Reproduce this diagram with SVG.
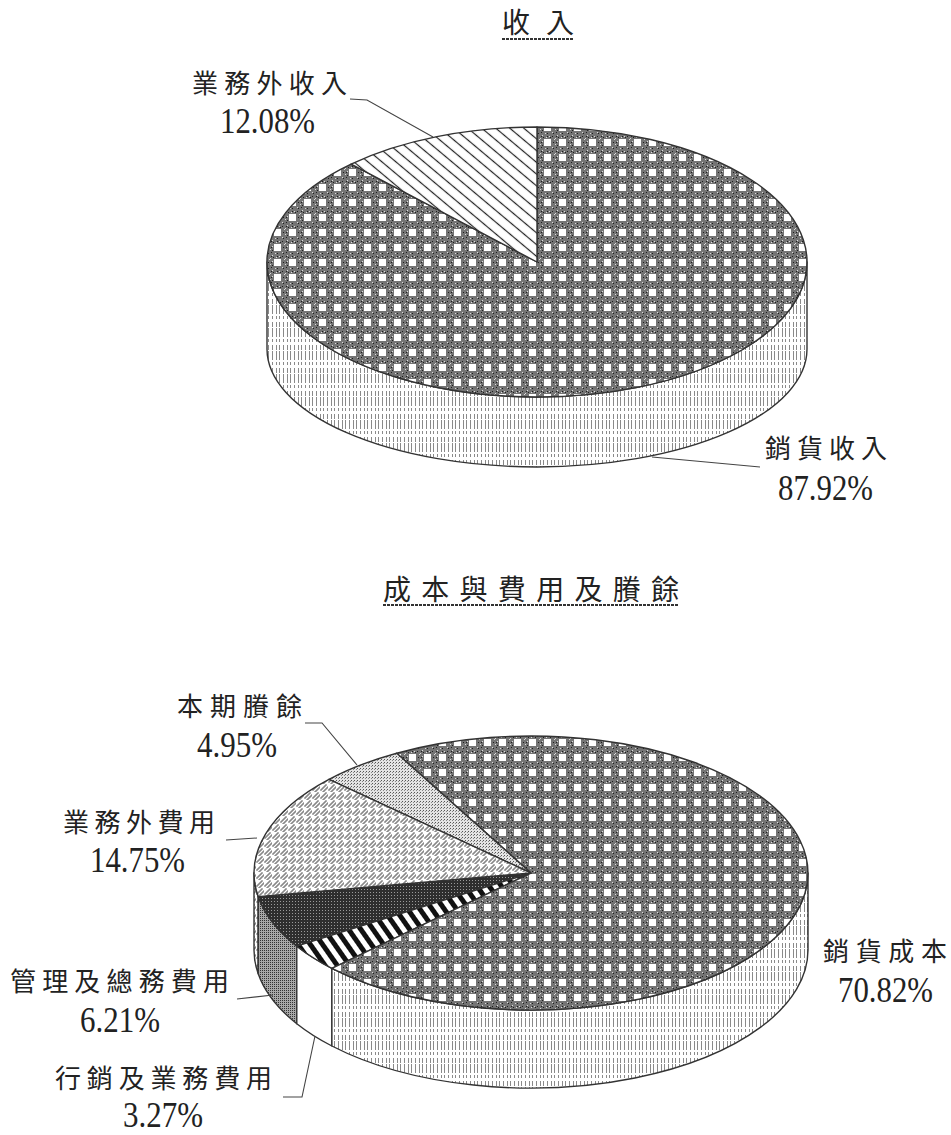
<svg xmlns="http://www.w3.org/2000/svg" width="951" height="1135" viewBox="0 0 951 1135">
<style>
.cjk{font-family:"Noto Sans CJK TC","Noto Sans CJK SC",sans-serif;font-size:26px;fill:#222}
.ttl{font-family:"Noto Sans CJK TC","Noto Sans CJK SC",sans-serif;font-size:28px;fill:#222}
.num{font-family:"Liberation Serif","DejaVu Serif",serif;font-size:36px;fill:#222}
.edge{stroke:#333;stroke-width:1.4;stroke-linejoin:round}
.lead{fill:none;stroke:#444;stroke-width:1.1}
.uline{stroke:#333;stroke-width:2;stroke-dasharray:3 1}
</style>
<defs>
<pattern id="chk" width="15" height="15" patternUnits="userSpaceOnUse">
<rect width="15" height="15" fill="#747474"/>
<path d="M1 1h1v1H1zM3 2h1v1H3zM12 1h1v1h-1zM13 13h1v1h-1zM1 12h1v1H1zM7 1h1v1H7zM7 13h1v1H7zM1 7h1v1H1zM13 7h1v1h-1zM10 2h1v1h-1zM2 10h1v1H2z" fill="#1e1e1e"/>
<path d="M2 0h1v1H2zM0 3h1v1H0zM9 1h1v1H9zM14 4h1v1h-1zM5 13h1v1H5zM12 12h1v1h-1zM0 9h1v1H0zM6 2h1v1H6zM2 6h1v1H2z" fill="#dcdcdc"/>
<rect x="4" y="4" width="7" height="7" fill="#fff"/>
</pattern>
<pattern id="vl" width="11" height="23" patternUnits="userSpaceOnUse">
<rect width="11" height="23" fill="#fff"/>
<path d="M1.5 0v23M4.5 0v23M8.5 0v23" stroke="#8a8a8a" stroke-width="1" stroke-dasharray="5 1 9 2 3 3"/>
</pattern>
<pattern id="hatch" width="9" height="9" patternUnits="userSpaceOnUse" patternTransform="rotate(40)">
<rect width="9" height="9" fill="#fff"/>
<line x1="0" y1="4.5" x2="9" y2="4.5" stroke="#222" stroke-width="1.2"/>
</pattern>
<pattern id="dots" width="3" height="3" patternUnits="userSpaceOnUse">
<rect width="3" height="3" fill="#e4e4e4"/>
<rect x="0" y="0" width="1" height="1" fill="#555"/>
<rect x="2" y="1" width="1" height="1" fill="#888"/>
</pattern>
<pattern id="weave" width="8" height="8" patternUnits="userSpaceOnUse">
<rect width="8" height="8" fill="#fff"/>
<path d="M0 6H2V4H4V2H6V0M2 8H4V6H6V4H8V2" fill="none" stroke="#555" stroke-width="0.9"/>
</pattern>
<pattern id="dark" width="3" height="3" patternUnits="userSpaceOnUse">
<rect width="3" height="3" fill="#2e2e2e"/>
<rect x="1" y="1" width="1" height="1" fill="#9a9a9a"/>
</pattern>
<pattern id="mid" width="2" height="2" patternUnits="userSpaceOnUse">
<rect width="2" height="2" fill="#a8a8a8"/>
<rect width="1" height="1" fill="#333"/>
</pattern>
<pattern id="bars" width="10" height="10" patternUnits="userSpaceOnUse" patternTransform="rotate(-35)">
<rect width="10" height="10" fill="#fff"/>
<rect x="0" y="0" width="5" height="10" fill="#111"/>
</pattern>
</defs>

<g id="title-income">
<text class="ttl" x="502" y="33" textLength="72">收入</text>
<line class="uline" x1="502" y1="39" x2="574" y2="39"/>
</g>

<g id="pie-income">
<g id="income-sales">
<path class="edge" fill="url(#vl)" d="M267,262 A270,135 0 0 0 807,262 L807,349 A270,118 0 0 1 267,349 Z"/>
<path class="edge" fill="url(#chk)" d="M537,262 L351.1,164.1 A270,135 0 1 0 537,127 Z"/>
</g>
<g id="income-nonop">
<path class="edge" fill="url(#hatch)" d="M537,262 L537,127 A270,135 0 0 0 351.1,164.1 Z"/>
</g>
</g>

<g id="title-cost">
<text class="ttl" x="383" y="600" textLength="296">成本與費用及賸餘</text>
<line class="uline" x1="383" y1="605" x2="678" y2="605"/>
</g>

<g id="pie-cost">
<g id="cost-nonop-side">
<path class="edge" fill="url(#weave)" d="M254,873 A277,137 0 0 0 258.2,896.6 L258.2,973.8 A277,138 0 0 1 254,950 Z"/>
</g>
<g id="cost-admin">
<path class="edge" fill="url(#mid)" d="M258.2,896.6 A277,137 0 0 0 296.8,946.2 L296.8,1023.7 A277,138 0 0 1 258.2,973.8 Z"/>
<path class="edge" fill="url(#dark)" d="M531,873 L258.2,896.6 A277,137 0 0 0 296.8,946.2 Z"/>
</g>
<g id="cost-selling">
<path class="edge" fill="#fff" d="M296.8,946.2 A277,137 0 0 0 331.9,968.3 L331.9,1046 A277,138 0 0 1 296.8,1023.7 Z"/>
<path class="edge" fill="url(#bars)" d="M531,873 L296.8,946.2 A277,137 0 0 0 331.9,968.3 Z"/>
</g>
<g id="cost-cogs">
<path class="edge" fill="url(#vl)" d="M331.9,968.3 A277,137 0 0 0 808,873 L808,950 A277,138 0 0 1 331.9,1046 Z"/>
<path class="edge" fill="url(#chk)" d="M531,873 L331.9,968.3 A277,137 0 1 0 396.7,753.2 Z"/>
</g>
<g id="cost-surplus">
<path class="edge" fill="url(#dots)" d="M531,873 L396.7,753.2 A277,137 0 0 0 329,779.3 Z"/>
</g>
<g id="cost-nonop">
<path class="edge" fill="url(#weave)" d="M531,873 L329,779.3 A277,137 0 0 0 258.2,896.6 Z"/>
</g>
</g>

<g id="connectors">
<polyline class="lead" points="350,99 367,100 433,137"/>
<polyline class="lead" points="652,457 760,467"/>
<polyline class="lead" points="305,723 322,723 357,765"/>
<polyline class="lead" points="226,840 257,838"/>
<polyline class="lead" points="237,999 273,995"/>
<polyline class="lead" points="283,1097 302,1097 315,1036"/>
</g>

<g id="labels">
<text class="cjk" x="192" y="93" textLength="155">業務外收入</text>
<text class="num" x="220" y="133" textLength="95" lengthAdjust="spacingAndGlyphs">12.08%</text>
<text class="cjk" x="765" y="458" textLength="122">銷貨收入</text>
<text class="num" x="778" y="500" textLength="95" lengthAdjust="spacingAndGlyphs">87.92%</text>
<text class="cjk" x="177" y="716" textLength="125">本期賸餘</text>
<text class="num" x="197" y="757" textLength="80" lengthAdjust="spacingAndGlyphs">4.95%</text>
<text class="cjk" x="63" y="832" textLength="152">業務外費用</text>
<text class="num" x="90" y="872" textLength="95" lengthAdjust="spacingAndGlyphs">14.75%</text>
<text class="cjk" x="10" y="991" textLength="219">管理及總務費用</text>
<text class="num" x="80" y="1032" textLength="80" lengthAdjust="spacingAndGlyphs">6.21%</text>
<text class="cjk" x="55" y="1088" textLength="217">行銷及業務費用</text>
<text class="num" x="123" y="1127" textLength="80" lengthAdjust="spacingAndGlyphs">3.27%</text>
<text class="cjk" x="823" y="961" textLength="124">銷貨成本</text>
<text class="num" x="838" y="1002" textLength="95" lengthAdjust="spacingAndGlyphs">70.82%</text>
</g>
</svg>
